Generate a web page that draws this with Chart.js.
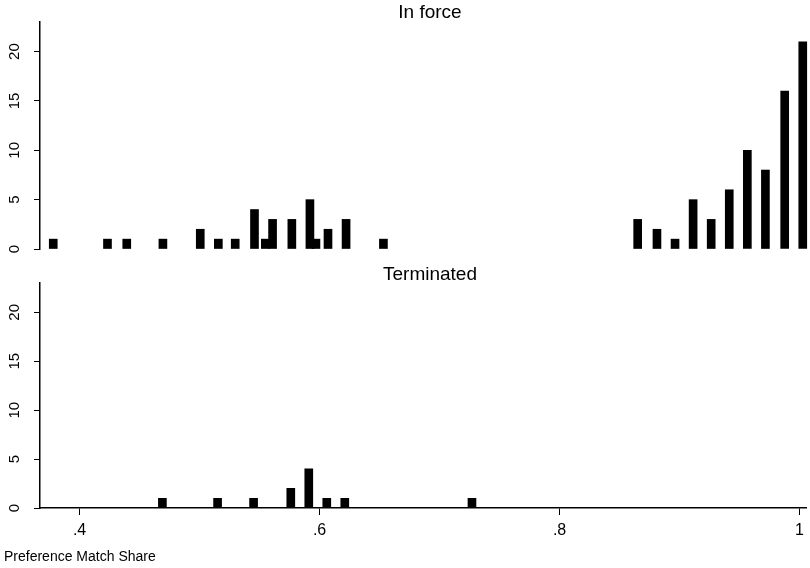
<!DOCTYPE html>
<html><head><meta charset="utf-8">
<script src="https://cdn.jsdelivr.net/npm/chart.js@4/dist/chart.umd.min.js"></script>
<style>
html,body{margin:0;padding:0;background:#fff;}
#wrap{position:relative;width:810px;height:568px;overflow:hidden;}
#c1{position:absolute;left:0;top:0;}
#c2{position:absolute;left:0;top:260px;}
</style></head><body>
<div id="wrap">
<canvas id="c1" width="810" height="260"></canvas>
<canvas id="c2" width="810" height="308"></canvas>
</div>
<script>
const panelTitles = ['In force', 'Terminated'];
const inForceShare = [0.378,0.423,0.439,0.469,0.500,0.515,0.529,0.545,0.554,0.560,0.576,0.591,0.596,0.606,0.621,0.652,0.863,0.879,0.894,0.909,0.924,0.939,0.954,0.969,0.985,1.000];
const inForceCount = [1,1,1,1,2,1,1,4,1,3,3,5,1,2,3,1,3,2,1,5,3,6,10,8,16,21];
const terminatedShare = [0.469,0.515,0.545,0.576,0.591,0.606,0.621,0.727];
const terminatedCount = [1,1,1,2,4,1,1,1];
const xTickValues = [0.4, 0.6, 0.8, 1];
const xTickLabels = ['.4', '.6', '.8', '1'];
const yTickValues = [0, 5, 10, 15, 20];
const yTickLabels = ['0', '5', '10', '15', '20'];
const xAxisTitle = 'Preference Match Share';

const FONT = '"Liberation Sans", Arial, Helvetica, sans-serif';
const X_MIN = 0.367, X_MAX = 1.006, Y_MAX = 23;

function textPlugin(title, titleY, showXTitle) {
  return {
    id: 'panelText',
    afterDraw(chart) {
      const ctx = chart.ctx;
      const ys = chart.scales.y;
      ctx.save();
      ctx.fillStyle = '#000';
      ctx.font = '19px ' + FONT;
      ctx.textAlign = 'center';
      ctx.textBaseline = 'middle';
      ctx.fillText(title, 430, titleY);
      ctx.font = '15px ' + FONT;
      yTickValues.forEach((v, i) => {
        const py = ys.getPixelForValue(v);
        ctx.save();
        ctx.translate(15, py);
        ctx.rotate(-Math.PI / 2);
        ctx.textAlign = 'center';
        ctx.textBaseline = 'middle';
        ctx.fillText(yTickLabels[i], 0, 0);
        ctx.restore();
      });
      if (showXTitle) {
        ctx.font = '14px ' + FONT;
        ctx.textAlign = 'left';
        ctx.textBaseline = 'middle';
        ctx.fillText(xAxisTitle, 4, 297);
      }
      ctx.restore();
    }
  };
}

function makeChart(id, shares, counts, title, titleY, showX, padTop, padBottom) {
  const data = shares.map((s, i) => ({ x: s, y: counts[i] }));
  const xScale = {
    type: 'linear',
    min: X_MIN, max: X_MAX,
    offset: false,
    display: showX,
    afterBuildTicks: s => { s.ticks = xTickValues.map(v => ({ value: v })); },
    grid: { offset: false, drawOnChartArea: false, drawTicks: true, tickLength: 7, color: '#000', lineWidth: 1 },
    border: { display: true, color: '#000', width: 1.5 },
    ticks: {
      color: '#000', font: { size: 16, family: FONT }, padding: 6, maxRotation: 0,
      callback: v => { const k = xTickValues.indexOf(v); return k >= 0 ? xTickLabels[k] : ''; }
    }
  };
  if (showX) xScale.afterFit = s => { s.height = 60; };
  return new Chart(document.getElementById(id), {
    type: 'bar',
    data: { datasets: [{ data, backgroundColor: '#000', borderWidth: 0, barThickness: 8 }] },
    options: {
      responsive: false,
      animation: false,
      layout: { padding: { top: padTop, bottom: padBottom, left: 0, right: 0 } },
      plugins: { legend: { display: false }, tooltip: { enabled: false }, title: { display: false } },
      scales: {
        x: xScale,
        y: {
          type: 'linear',
          min: 0, max: Y_MAX,
          afterBuildTicks: s => { s.ticks = yTickValues.map(v => ({ value: v })); },
          afterFit: s => { s.width = 40; },
          grid: { drawOnChartArea: false, drawTicks: true, tickLength: 6, color: '#000', lineWidth: 1 },
          border: { display: true, color: '#000', width: 1.5 },
          ticks: { display: false }
        }
      }
    },
    plugins: [textPlugin(title, titleY, showX)]
  });
}

makeChart('c1', inForceShare, inForceCount, panelTitles[0], 13, false, 22, 11);
makeChart('c2', terminatedShare, terminatedCount, panelTitles[1], 15, true, 23, 0);
</script>
</body></html>
